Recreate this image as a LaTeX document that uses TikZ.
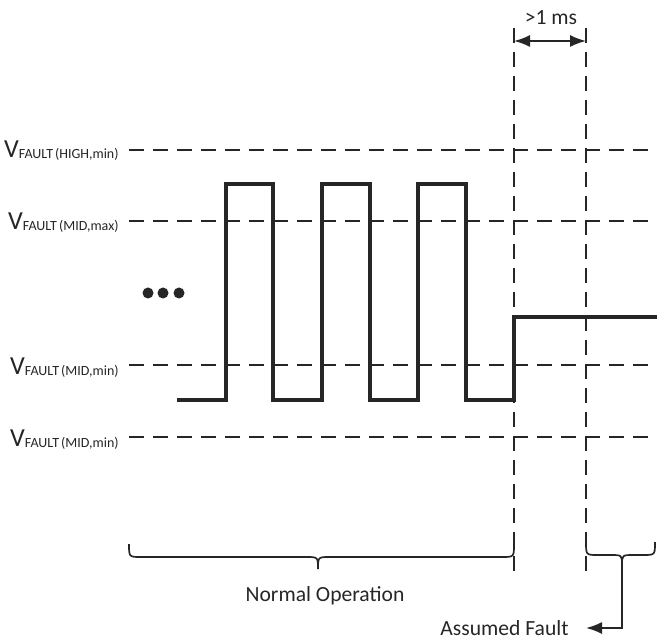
\documentclass[tikz,border=0pt]{standalone}
\usepackage{fontspec}
\setmainfont{Carlito}
\usepackage{tikz}
\usetikzlibrary{calc, arrows.meta}
\newcommand*\vfault[1]{{\fontsize{13}{14}\selectfont V}\raisebox{-0.5pt}{\fontsize{7}{8}\selectfont FAULT\kern1pt(#1)}}

\tikzset{
    thresh/.style={line width=0.8pt, draw=black!85, dash pattern=on 7.5pt off 4.5pt},
    sig/.style={line width=1.6pt, draw=black!85},
    brace/.style={line width=0.85pt, draw=black!85},
    tip/.tip={Latex[length=8pt,width=6pt]},
    vlabel/.style={anchor=base east, inner sep=0pt, text=black!85},
    txt/.style={inner sep=0pt, text=black!85, font=\fontsize{10.8}{12}\selectfont}
}

\begin{document}
\begin{tikzpicture}[x=0.5pt, y=-0.5pt]
        \useasboundingbox (0,0) rectangle (657,640);

        \coordinate (T1) at (514,28);
        \coordinate (T2) at (586,28);
        \coordinate (B1) at (514,572);
        \coordinate (B2) at (586,572);
        \coordinate (ntip) at (318,569);
        \coordinate (ftip) at (622,565);
        \coordinate (fend) at (586,628);

        % threshold levels
        \draw[thresh] (129,150) -- (657,150);
        \draw[thresh] (129,221) -- (657,221);
        \draw[thresh] (129,365) -- (657,365);
        \draw[thresh] (129,437) -- (657,437);

        \draw[thresh] (T1) -- (B1);
        \draw[thresh] (T2) -- (B2);

        \node[vlabel] (vhigh) at (119,158) {\vfault{HIGH,min}};
        \node[vlabel] (vmidmax) at (119,230) {\vfault{MID,max}};
        \node[vlabel] (vmidmin) at (119,374) {\vfault{MID,min}};
        \node[vlabel] (vlow) at (119,446) {\vfault{MID,min}};

        % signal
        \draw[sig] (177,400) -| (226,184) -| (273,400) -| (322,184) -| (370,400)
            -| (418,184) -| (466,400) -| (514,317) -- (657,317);

        \fill[black!85] (148,293) circle (5.5);
        \fill[black!85] (163,293) circle (5.5);
        \fill[black!85] (179,293) circle (5.5);

        % timing
        \draw[line width=0.85pt, black!85, tip-tip] (514,41) -- (586,41);
        \node[txt] (tms) at (551,18) {>1 ms};

        % braces
        \draw[brace] (129,544) .. controls (129,557) .. (141,557) -- (306,557)
            .. controls (318,557) .. (ntip) .. controls (318,557) .. (330,557)
            -- (502,557) .. controls (514,557) .. (514,544);
        \draw[brace] (586,542) .. controls (586,555) .. (598,555) -- (610,555)
            .. controls (622,555) .. (ftip) .. controls (622,555) .. (634,555)
            -- (643,555) .. controls (655,555) .. (655,542);

        \node[txt, anchor=base] (normal) at (325,601) {Normal Operation};
        \node[txt, anchor=base east] (fault) at (569,635) {Assumed Fault};
        \draw[brace, -tip] (ftip) |- (fend);
    \end{tikzpicture}
\end{document}
